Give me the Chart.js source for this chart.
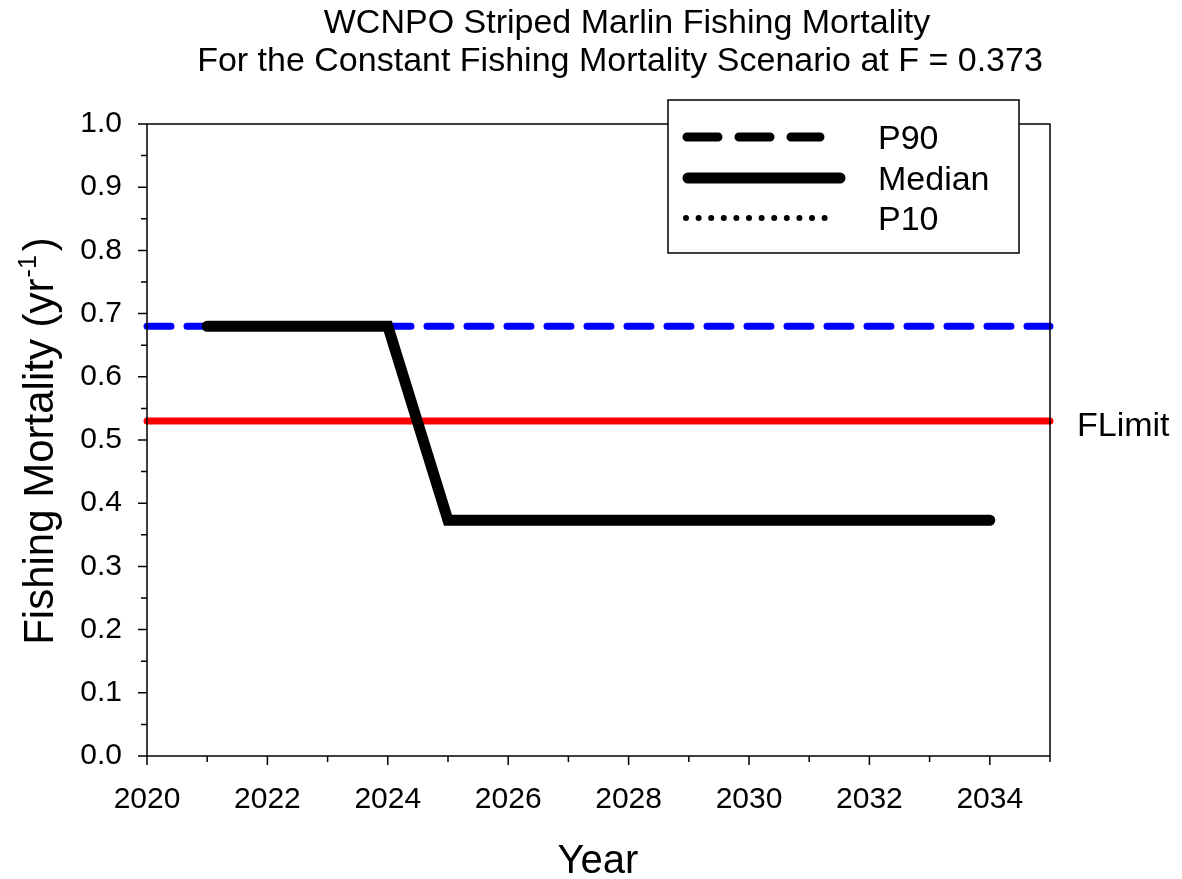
<!DOCTYPE html>
<html><head><meta charset="utf-8">
<script src="https://cdn.jsdelivr.net/npm/chart.js@4.4.1/dist/chart.umd.min.js"></script>
<style>html,body{margin:0;padding:0;background:#fff;} #wrap{width:1182px;height:879px;position:relative;}</style>
</head><body><div id="wrap"><canvas id="c" width="1182" height="879"></canvas></div>
<script>
// ---- data ----
const titleLines = ['WCNPO Striped Marlin Fishing Mortality', 'For the Constant Fishing Mortality Scenario at F = 0.373'];
const xAxisTitle = 'Year';
const yAxisTitleMain = 'Fishing Mortality (yr';
const yAxisTitleSup = '-1';
const yAxisTitleEnd = ')';
const medianYears = [2021, 2022, 2023, 2024, 2025, 2026, 2027, 2028, 2029, 2030, 2031, 2032, 2033, 2034];
const medianValues = [0.68, 0.68, 0.68, 0.68, 0.373, 0.373, 0.373, 0.373, 0.373, 0.373, 0.373, 0.373, 0.373, 0.373];
const p90Values = [0.68, 0.68, 0.68, 0.68, 0.373, 0.373, 0.373, 0.373, 0.373, 0.373, 0.373, 0.373, 0.373, 0.373];
const p10Values = [0.68, 0.68, 0.68, 0.68, 0.373, 0.373, 0.373, 0.373, 0.373, 0.373, 0.373, 0.373, 0.373, 0.373];
const refYears = [2020, 2035];
const refLineValues = [0.68, 0.68];
const fLimitValues = [0.53, 0.53];
const fLimitLabel = 'FLimit';
const xTickLabels = ['2020', '2022', '2024', '2026', '2028', '2030', '2032', '2034'];
const yTickLabels = ['0.0', '0.1', '0.2', '0.3', '0.4', '0.5', '0.6', '0.7', '0.8', '0.9', '1.0'];
const legendLabels = ['P90', 'Median', 'P10'];

const FONT = "'Liberation Sans', Arial, sans-serif";
const pts = (xs, ys) => xs.map((x, i) => ({x: x, y: ys[i]}));

const decor = {
  id: 'decor',
  afterDraw(chart) {
    const ctx = chart.ctx;
    const ca = chart.chartArea;
    const xs = chart.scales.x, ys = chart.scales.y;
    ctx.save();
    // frame
    ctx.strokeStyle = '#000';
    ctx.lineWidth = 1.5;
    ctx.strokeRect(ca.left, ca.top, ca.right - ca.left, ca.bottom - ca.top);
    // x ticks
    ctx.beginPath();
    for (let v = xs.min; v <= xs.max; v++) {
      const px = xs.getPixelForValue(v);
      const len = (v % 2 === 0) ? 9 : 6;
      ctx.moveTo(px, ca.bottom);
      ctx.lineTo(px, ca.bottom + len);
    }
    // y ticks
    for (let i = 0; i <= 20; i++) {
      const v = i * 0.05;
      const py = ys.getPixelForValue(v);
      const len = (i % 2 === 0) ? 9 : 6;
      ctx.moveTo(ca.left, py);
      ctx.lineTo(ca.left - len, py);
    }
    ctx.stroke();

    // titles
    ctx.fillStyle = '#000';
    ctx.textAlign = 'center';
    ctx.textBaseline = 'alphabetic';
    ctx.font = '34px ' + FONT;
    ctx.fillText(titleLines[0], 627, 33);
    ctx.fillText(titleLines[1], 620, 71);
    ctx.font = '40px ' + FONT;
    ctx.fillText(xAxisTitle, 598, 873);

    // y axis title with superscript
    ctx.save();
    ctx.translate(53, 441);
    ctx.rotate(-Math.PI / 2);
    const mainF = '42px ' + FONT, supF = '25px ' + FONT;
    ctx.font = mainF; const w1 = ctx.measureText(yAxisTitleMain).width; const w3 = ctx.measureText(yAxisTitleEnd).width;
    ctx.font = supF; const w2 = ctx.measureText(yAxisTitleSup).width;
    let x0 = -(w1 + w2 + w3 + 5) / 2;
    ctx.textAlign = 'left';
    ctx.font = mainF; ctx.fillText(yAxisTitleMain, x0, 0);
    ctx.font = supF; ctx.fillText(yAxisTitleSup, x0 + w1 + 1, -17);
    ctx.font = mainF; ctx.fillText(yAxisTitleEnd, x0 + w1 + w2 + 5, 0);
    ctx.restore();

    // FLimit label
    ctx.textAlign = 'left';
    ctx.textBaseline = 'middle';
    ctx.font = '34px ' + FONT;
    ctx.fillText(fLimitLabel, 1077, ys.getPixelForValue(fLimitValues[1]) + 6);

    // legend box
    const lb = {l: 668, t: 100, r: 1019, b: 253};
    ctx.fillStyle = '#fff';
    ctx.fillRect(lb.l, lb.t, lb.r - lb.l, lb.b - lb.t);
    ctx.strokeStyle = '#000';
    ctx.lineWidth = 1.5;
    ctx.strokeRect(lb.l, lb.t, lb.r - lb.l, lb.b - lb.t);
    const rows = [137, 178, 218];
    const sample = [
      {w: 9, dash: [31, 21], x1: 687, x2: 820},
      {w: 11, dash: [], x1: 688, x2: 840},
      {w: 6, dash: [0, 12.6], x1: 686, x2: 834}
    ];
    ctx.lineCap = 'round';
    sample.forEach((s, i) => {
      ctx.beginPath();
      ctx.lineWidth = s.w;
      ctx.setLineDash(s.dash);
      ctx.moveTo(s.x1, rows[i]);
      ctx.lineTo(s.x2, rows[i]);
      ctx.stroke();
    });
    ctx.setLineDash([]);
    ctx.fillStyle = '#000';
    ctx.font = '34px ' + FONT;
    ctx.textAlign = 'left';
    ctx.textBaseline = 'middle';
    legendLabels.forEach((t, i) => ctx.fillText(t, 878, rows[i] + 3));
    ctx.restore();
  }
};

new Chart(document.getElementById('c'), {
  type: 'line',
  data: {
    datasets: [
      {label: 'Reference', data: pts(refYears, refLineValues), borderColor: '#0000ff', borderWidth: 7, borderDash: [24, 16], borderCapStyle: 'round', pointRadius: 0, clip: false, order: 5},
      {label: 'FLimit', data: pts(refYears, fLimitValues), borderColor: '#ff0000', borderWidth: 7, borderCapStyle: 'round', pointRadius: 0, clip: false, order: 4},
      {label: legendLabels[0], data: pts(medianYears, p90Values), borderColor: '#000', borderWidth: 9, borderDash: [31, 21], borderCapStyle: 'round', pointRadius: 0, clip: false, order: 3},
      {label: legendLabels[2], data: pts(medianYears, p10Values), borderColor: '#000', borderWidth: 6, borderDash: [0, 12.6], borderCapStyle: 'round', pointRadius: 0, clip: false, order: 2},
      {label: legendLabels[1], data: pts(medianYears, medianValues), borderColor: '#000', borderWidth: 11, borderCapStyle: 'round', pointRadius: 0, clip: false, order: 1}
    ]
  },
  options: {
    responsive: false,
    animation: false,
    devicePixelRatio: 1,
    layout: {padding: {top: 124, right: 132, left: 0, bottom: 0}},
    plugins: {legend: {display: false}, title: {display: false}, tooltip: {enabled: false}},
    scales: {
      x: {
        type: 'linear', min: 2020, max: 2035,
        grid: {display: false}, border: {display: false},
        afterFit: (s) => { s.height = 123; },
        ticks: {
          stepSize: 1, autoSkip: false, maxRotation: 0, padding: 18, color: '#000',
          font: {family: FONT, size: 30},
          callback: (v) => xTickLabels.includes(String(v)) ? String(v) : ''
        }
      },
      y: {
        min: 0, max: 1,
        grid: {display: false}, border: {display: false},
        afterFit: (s) => { s.width = 147; },
        ticks: {
          stepSize: 0.1, padding: 17, color: '#000',
          font: {family: FONT, size: 30},
          callback: (v) => yTickLabels[Math.round(v * 10)]
        }
      }
    }
  },
  plugins: [decor]
});
</script></body></html>
